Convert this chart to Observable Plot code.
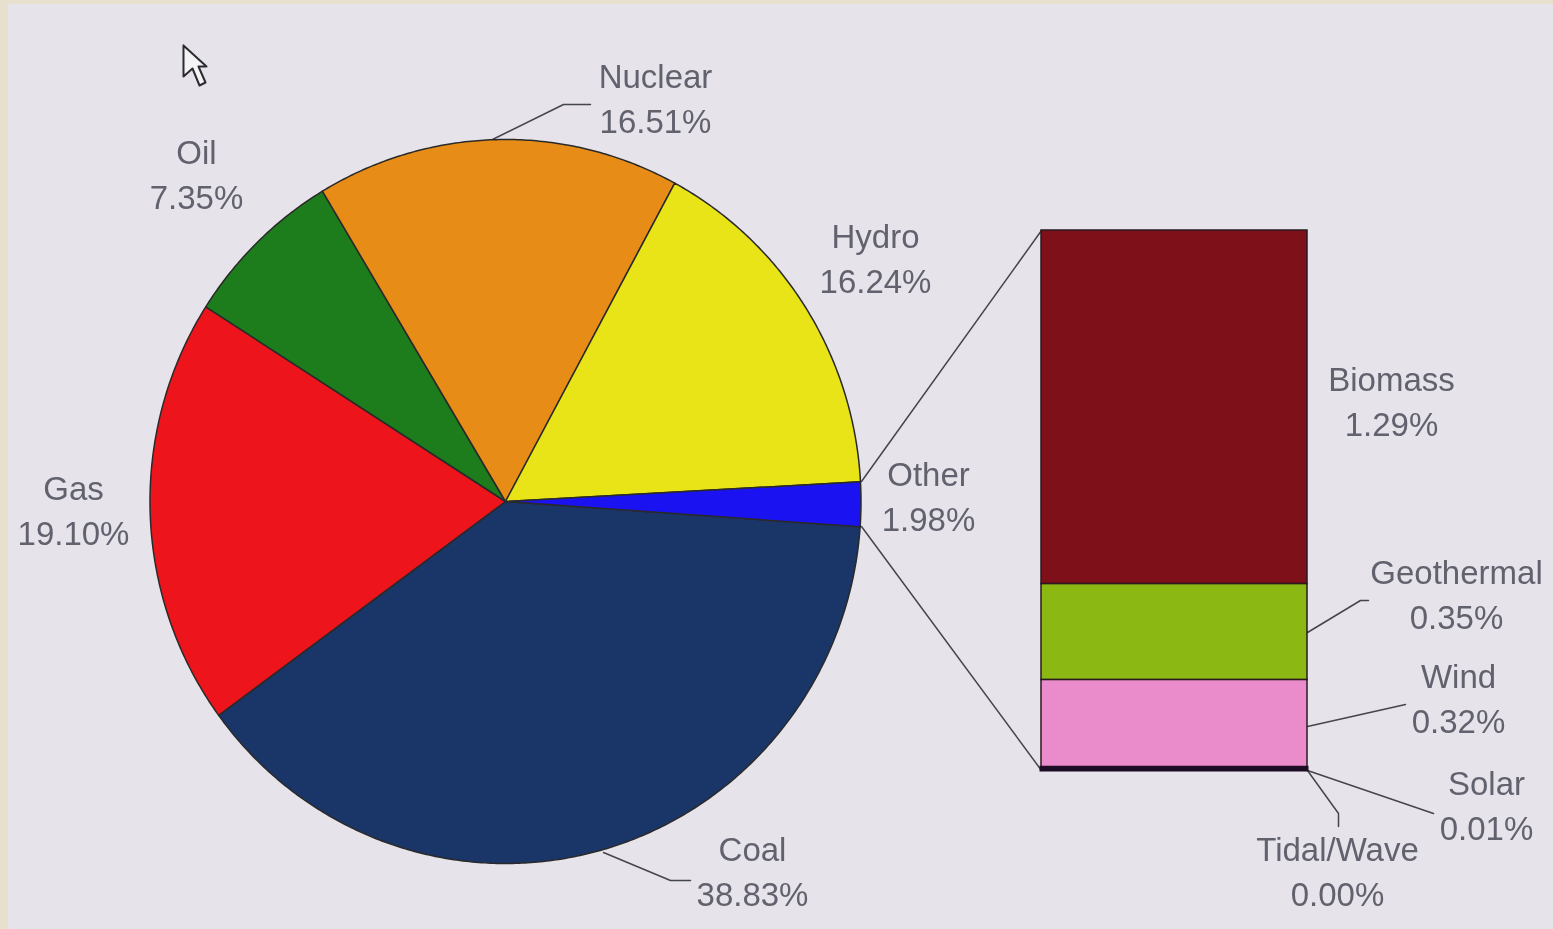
<!DOCTYPE html>
<html>
<head>
<meta charset="utf-8">
<script src="https://cdn.jsdelivr.net/npm/d3@7"></script>
<script src="https://cdn.jsdelivr.net/npm/@observablehq/plot@0.6"></script>
<style>
html,body{margin:0;padding:0;background:#e8e0cf;overflow:hidden}
svg{display:block}
</style>
</head>
<body>
<script>
// Data
const pieNames = ["Coal", "Gas", "Oil", "Nuclear", "Hydro", "Other"];
const pieValues = [38.83, 19.10, 7.35, 16.51, 16.24, 1.98];
const stackNames = ["Biomass", "Geothermal", "Wind", "Solar", "Tidal/Wave"];
const stackValues = [1.29, 0.35, 0.32, 0.01, 0.00];

// Colours
const allNames = [...pieNames, ...stackNames];
const colours = ["#1a3568", "#ee141c", "#1d7c1c", "#e88c18", "#e8e418", "#1a12f0",
                 "#7d1019", "#8cb814", "#ea8ccb", "#1c0c24", "#1c0c24"];

// Layout
const W = 1553, H = 929;
const pie = {cx: 505, cy: 501, rx: 355.5, ry: 362, rotate: 0.45};
const stack = {x1: 1041, x2: 1307, y1: 230, y2: 770};
const panel = [{x1: 8, x2: W, y1: 4, y2: H}];
const labelPos = {
  Coal: [752, 869], Gas: [73, 508], Oil: [196, 172], Nuclear: [655, 96], Hydro: [875, 256], Other: [928, 494],
  Biomass: [1391, 399], Geothermal: [1456, 592], Wind: [1458, 696], Solar: [1486, 803], "Tidal/Wave": [1337, 869]
};
const leaders = [
  [[490, 140], [563, 104], [590, 104]],
  [[603, 852], [670, 880], [690, 880]],
  [[861, 481], [1041, 230]],
  [[861, 526], [1041, 770]],
  [[1307, 632], [1360, 600], [1368, 600]],
  [[1307, 726], [1405, 704]],
  [[1307, 770], [1433, 813]],
  [[1307, 770], [1338, 813], [1338, 826]]
];
const cursor = [[183, 45], [183, 76], [192, 68], [199, 85], [205, 82], [198, 66], [206, 66], [183, 45]];

// Pie slices: start from the Other slice centred on the east
const sum = d3.sum(pieValues);
const deg = v => v / sum * 360;
let a = deg(pieValues[5]) / 2 + pie.rotate;
const slices = [];
pieNames.forEach((name, i) => {
  const a0 = name === "Other" ? -deg(pieValues[5]) / 2 + pie.rotate : a;
  const a1 = a0 + deg(pieValues[i]);
  if (name !== "Other") a = a1;
  const steps = Math.max(2, Math.ceil((a1 - a0) * 2));
  slices.push({name, x: pie.cx, y: pie.cy});
  for (let s = 0; s <= steps; s++) {
    const t = (a0 + (a1 - a0) * s / steps) * Math.PI / 180;
    slices.push({name, x: pie.cx + pie.rx * Math.cos(t), y: pie.cy + pie.ry * Math.sin(t)});
  }
  slices.push({name, x: pie.cx, y: pie.cy});
});

// Stack of the Other breakdown
const stackTotal = d3.sum(stackValues);
const yOf = d3.scaleLinear([0, stackTotal], [stack.y1, stack.y2]);
let run = 0;
const bars = stackNames.map((name, i) => {
  const r = {name, x1: stack.x1, x2: stack.x2, y1: yOf(run), y2: yOf(run + stackValues[i])};
  run += stackValues[i];
  return r;
}).filter(d => d.y2 > d.y1);

const pct = v => v.toFixed(2) + "%";
const labels = allNames.map((name, i) => ({
  name,
  text: name + "\n" + pct([...pieValues, ...stackValues][i]),
  x: labelPos[name][0],
  y: labelPos[name][1]
}));

const leaderRows = leaders.flatMap((pts, k) => pts.map(([x, y]) => ({k, x, y})));
const cursorRows = cursor.map(([x, y]) => ({x, y}));

const chart = Plot.plot({
  width: W, height: H, margin: 0,
  style: {background: "#e8e0cf", fontFamily: "'Liberation Sans', Arial, sans-serif", filter: "blur(0.6px)"},
  x: {domain: [0, W], range: [0, W], axis: null},
  y: {domain: [0, H], range: [0, H], axis: null},
  color: {domain: allNames, range: colours, legend: false},
  marks: [
    Plot.rect(panel, {x1: "x1", x2: "x2", y1: "y1", y2: "y2", fill: "#e6e3ea"}),
    Plot.line(leaderRows, {x: "x", y: "y", z: "k", stroke: "#45454d", strokeWidth: 1.5}),
    Plot.line(slices, {x: "x", y: "y", z: "name", fill: "name", stroke: "#2a2a2a", strokeWidth: 1.5, curve: "linear"}),
    Plot.rect(bars, {x1: "x1", x2: "x2", y1: "y1", y2: "y2", fill: "name", stroke: "#2a1a20", strokeWidth: 1.5}),
    Plot.rect(bars.filter(d => d.name === "Solar"), {x1: "x1", x2: "x2", y1: "y1", y2: "y2", fill: "name", stroke: "#1c0c24", strokeWidth: 3}),
    Plot.line(cursorRows, {x: "x", y: "y", fill: "#f4f3f6", stroke: "#2b2b30", strokeWidth: 2}),
    Plot.text(labels, {x: "x", y: "y", text: "text", fontSize: 33, lineHeight: 1.35, fill: "#62626f", textAnchor: "middle"})
  ]
});
document.body.appendChild(chart);
</script>
</body>
</html>
